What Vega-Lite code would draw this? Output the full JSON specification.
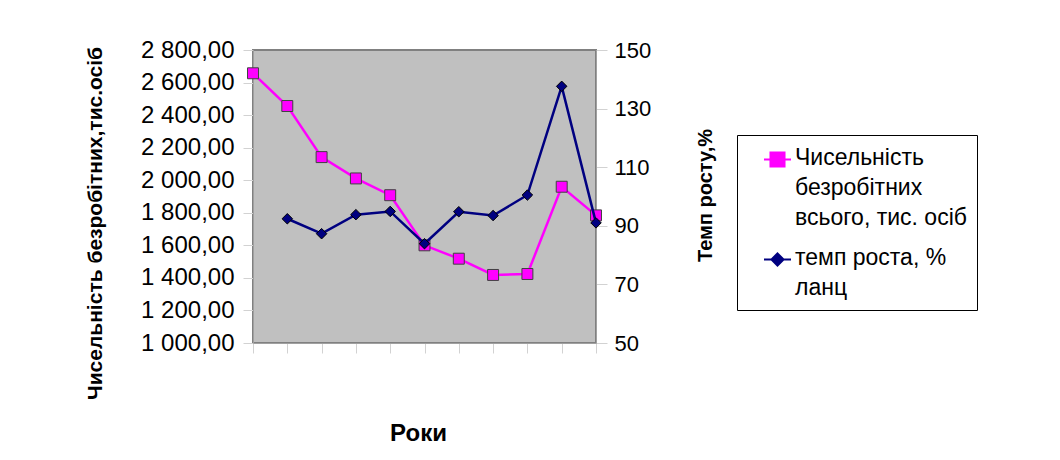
{
  "$schema": "https://vega.github.io/schema/vega-lite/v6.json",
  "width": 343,
  "height": 293,
  "autosize": {"type": "none"},
  "padding": {"left": 253, "top": 50, "right": 464, "bottom": 117},
  "background": "white",
  "config": {
    "font": "Liberation Sans",
    "view": {"fill": "#C0C0C0", "stroke": "#808080", "strokeWidth": 2},
    "axis": {"grid": false, "domainColor": "#a0a0a0", "tickColor": "#d2d2d2", "tickWidth": 1, "labelColor": "black", "titleColor": "black", "labelFont": "Liberation Sans", "titleFont": "Liberation Sans"}
  },
  "data": {"values": [
    {"рік": 1, "показник": "Чисельність безробітних всього, тис. осіб", "значення": 2657},
    {"рік": 2, "показник": "Чисельність безробітних всього, тис. осіб", "значення": 2456},
    {"рік": 3, "показник": "Чисельність безробітних всього, тис. осіб", "значення": 2142},
    {"рік": 4, "показник": "Чисельність безробітних всього, тис. осіб", "значення": 2011},
    {"рік": 5, "показник": "Чисельність безробітних всього, тис. осіб", "значення": 1908},
    {"рік": 6, "показник": "Чисельність безробітних всього, тис. осіб", "значення": 1600},
    {"рік": 7, "показник": "Чисельність безробітних всього, тис. осіб", "значення": 1518},
    {"рік": 8, "показник": "Чисельність безробітних всього, тис. осіб", "значення": 1418},
    {"рік": 9, "показник": "Чисельність безробітних всього, тис. осіб", "значення": 1424},
    {"рік": 10, "показник": "Чисельність безробітних всього, тис. осіб", "значення": 1960},
    {"рік": 11, "показник": "Чисельність безробітних всього, тис. осіб", "значення": 1784},
    {"рік": 2, "показник": "темп роста, % ланц", "значення": 92.4},
    {"рік": 3, "показник": "темп роста, % ланц", "значення": 87.3},
    {"рік": 4, "показник": "темп роста, % ланц", "значення": 93.8},
    {"рік": 5, "показник": "темп роста, % ланц", "значення": 94.9},
    {"рік": 6, "показник": "темп роста, % ланц", "значення": 83.9},
    {"рік": 7, "показник": "темп роста, % ланц", "значення": 94.8},
    {"рік": 8, "показник": "темп роста, % ланц", "значення": 93.5},
    {"рік": 9, "показник": "темп роста, % ланц", "значення": 100.5},
    {"рік": 10, "показник": "темп роста, % ланц", "значення": 137.6},
    {"рік": 11, "показник": "темп роста, % ланц", "значення": 91.0}
  ]},
  "encoding": {
    "x": {
      "field": "рік", "type": "ordinal",
      "scale": {"type": "point", "padding": 0},
      "axis": {
        "title": "Роки", "labels": false, "tickSize": 10,
        "titleFontSize": 24, "titleFontWeight": "bold",
        "titleX": 165, "titleY": 90, "titleBaseline": "middle", "titleAlign": "center",
        "encode": {"ticks": {"update": {"y": {"value": -10}}}}
      }
    }
  },
  "layer": [
    {
      "transform": [{"filter": "datum['показник'] === 'Чисельність безробітних всього, тис. осіб'"}],
      "encoding": {
        "y": {
          "field": "значення", "type": "quantitative",
          "scale": {"domain": [1000, 2800], "nice": false, "zero": false},
          "axis": {
            "orient": "left",
            "title": "Чисельність безробітних,тис.осіб",
            "values": [1000, 1200, 1400, 1600, 1800, 2000, 2200, 2400, 2600, 2800],
            "labelExpr": "replace(replace(format(datum.value, ',.2f'), ',', ' '), '.', ',')",
            "labelFontSize": 24, "tickSize": 10, "labelPadding": 9,
            "titleFontSize": 21, "titleFontWeight": "bold", "titleAngle": -90,
            "titleX": -158, "titleY": 173, "titleBaseline": "middle", "titleAlign": "center",
            "encode": {"ticks": {"update": {"x": {"value": 10}}}}
          }
        }
      },
      "layer": [
        {
          "mark": {"type": "line", "strokeWidth": 2.5},
          "encoding": {
            "color": {
              "field": "показник", "type": "nominal",
              "scale": {"domain": ["Чисельність безробітних всього, тис. осіб", "темп роста, % ланц"], "range": ["#FF00FF", "#000080"]},
              "legend": {
                "orient": "none", "legendX": 484, "legendY": 85,
                "title": null,
                "strokeColor": "black", "fillColor": "white", "padding": 10,
                "symbolOffset": 16, "symbolSize": 729, "symbolStrokeWidth": 2,
                "labelFont": "Liberation Sans", "labelFontSize": 23, "labelColor": "black",
                "labelOffset": 3, "rowPadding": 15, "labelBaseline": "top", "labelLimit": 400,
                "labelExpr": "datum.label === 'Чисельність безробітних всього, тис. осіб' ? ['Чисельність', 'безробітних', 'всього, тис. осіб'] : ['темп роста, %', 'ланц']",
                "encode": {
                  "labels": {"update": {"lineHeight": {"value": 30}, "dy": {"value": -13}}},
                  "symbols": {"update": {
                    "shape": [{"test": "datum.value === 'темп роста, % ланц'", "value": "M-1,0H1M0,-0.45L0.45,0L0,0.45L-0.45,0Z"}, {"value": "M-1,0H1M-0.52,-0.52H0.52V0.52H-0.52Z"}],
                    "fill": [{"test": "datum.value === 'темп роста, % ланц'", "value": "#000080"}, {"value": "#FF00FF"}],
                    "stroke": [{"test": "datum.value === 'темп роста, % ланц'", "value": "#000080"}, {"value": "#FF00FF"}],
                    "opacity": {"value": 1}
                  }}
                }
              }
            }
          }
        },
        {
          "mark": {"type": "point", "shape": "square", "filled": true, "fill": "#FF00FF", "stroke": "#404040", "strokeWidth": 1, "size": 120, "opacity": 1}
        }
      ]
    },
    {
      "transform": [{"filter": "datum['показник'] === 'темп роста, % ланц'"}],
      "encoding": {
        "y": {
          "field": "значення", "type": "quantitative",
          "scale": {"domain": [50, 150], "nice": false, "zero": false},
          "axis": {
            "orient": "right",
            "title": "Темп росту,%",
            "values": [50, 70, 90, 110, 130, 150],
            "labelFontSize": 22, "tickSize": 11, "labelPadding": 7,
            "titleFontSize": 20, "titleFontWeight": "bold", "titleAngle": -90,
            "titleX": 109, "titleY": 145, "titleBaseline": "middle", "titleAlign": "center",
            "encode": {"ticks": {"update": {"x": {"value": -11}}}}
          }
        }
      },
      "layer": [
        {
          "mark": {"type": "line", "strokeWidth": 2.5},
          "encoding": {"color": {"field": "показник", "type": "nominal"}}
        },
        {
          "mark": {"type": "point", "shape": "diamond", "filled": true, "fill": "#000080", "stroke": "black", "strokeWidth": 1, "size": 110, "opacity": 1}
        }
      ]
    }
  ],
  "resolve": {"scale": {"y": "independent"}}
}
